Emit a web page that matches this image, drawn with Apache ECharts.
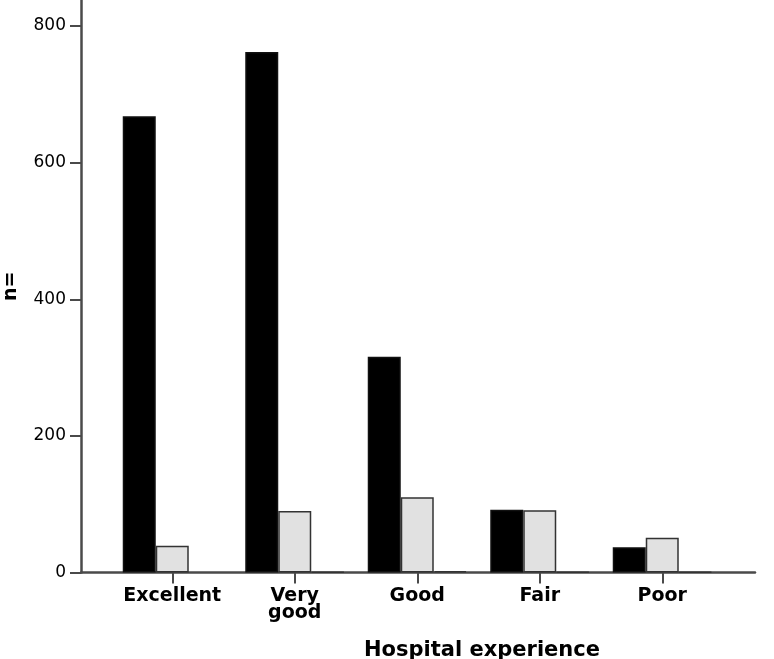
<!DOCTYPE html>
<html>
<head>
<meta charset="utf-8">
<script src="https://cdn.jsdelivr.net/npm/echarts@6/dist/echarts.min.js"></script>
<style>
  html, body { margin: 0; padding: 0; background: #fff; }
  #chart { width: 774px; height: 659px; }
</style>
</head>
<body>
<div id="chart"></div>
<script>
const categories = ['Excellent', 'Very\ngood', 'Good', 'Fair', 'Poor']
const blackValues = [668, 762, 316, 92, 37]
const grayValues = [39, 90, 110, 91, 51]
// third group: no bar for Excellent, hairline bars elsewhere
const whiteValues = [null, 1, 2, 1, 1]
const yTicks = [0, 200, 400, 600, 800]

const font = 'DejaVu Sans'
const axisColor = '#4a4a4a'

const chart = echarts.init(document.getElementById('chart'), null, { renderer: 'canvas' })

function barSeries(name, data, fill, border) {
  return {
    name: name,
    type: 'bar',
    xAxisIndex: 0,
    yAxisIndex: 0,
    data: data,
    barWidth: 33,
    barGap: '0%',
    itemStyle: { color: fill, borderColor: border, borderWidth: 1.5 },
    z: 3
  }
}

chart.setOption({
  animation: false,
  backgroundColor: '#fff',
  title: {
    text: 'Hospital experience',
    left: 477,
    top: 635,
    textAlign: 'center',
    textStyle: { fontFamily: font, fontWeight: 'bold', fontSize: 21, color: '#000' }
  },
  grid: [
    { left: 111, right: 50.5, top: 26, bottom: 86.5, outerBoundsMode: 'none', containLabel: false },
    { left: 81, right: 19, top: 0, bottom: 86.5, outerBoundsMode: 'none', containLabel: false }
  ],
  xAxis: [
    {
      type: 'category',
      gridIndex: 0,
      data: categories,
      axisLine: { show: false },
      axisTick: { show: true, alignWithLabel: true, length: 11, lineStyle: { color: axisColor, width: 2 } },
      axisLabel: {
        interval: 0,
        margin: 15,
        fontFamily: font,
        fontWeight: 'bold',
        fontSize: 19,
        lineHeight: 17,
        color: '#000'
      },
      splitLine: { show: false }
    },
    {
      type: 'value',
      gridIndex: 1,
      min: 0,
      max: 1,
      axisLine: { show: true, lineStyle: { color: axisColor, width: 2.5 } },
      axisTick: { show: false },
      axisLabel: { show: false },
      splitLine: { show: false }
    }
  ],
  yAxis: [
    {
      type: 'value',
      gridIndex: 0,
      min: yTicks[0],
      max: yTicks[yTicks.length - 1],
      interval: 200,
      offset: 30,
      axisLine: { show: false },
      axisTick: { show: true, length: 11, lineStyle: { color: axisColor, width: 2 } },
      axisLabel: { margin: 15, fontFamily: font, fontSize: 17, color: '#000' },
      splitLine: { show: false }
    },
    {
      type: 'value',
      gridIndex: 1,
      min: 0,
      max: 1,
      name: 'n=',
      nameLocation: 'middle',
      nameRotate: 90,
      nameGap: 60,
      nameTextStyle: { fontFamily: font, fontWeight: 'bold', fontSize: 19, color: '#000' },
      axisLine: { show: true, lineStyle: { color: axisColor, width: 2.5 } },
      axisTick: { show: false },
      axisLabel: { show: false },
      splitLine: { show: false }
    }
  ],
  series: [
    barSeries('Group 1', blackValues, '#000000', '#111111'),
    barSeries('Group 2', grayValues, '#e1e1e1', '#333333'),
    barSeries('Group 3', whiteValues, '#ffffff', '#333333')
  ]
})

window.addEventListener('resize', () => chart.resize())
</script>
</body>
</html>
